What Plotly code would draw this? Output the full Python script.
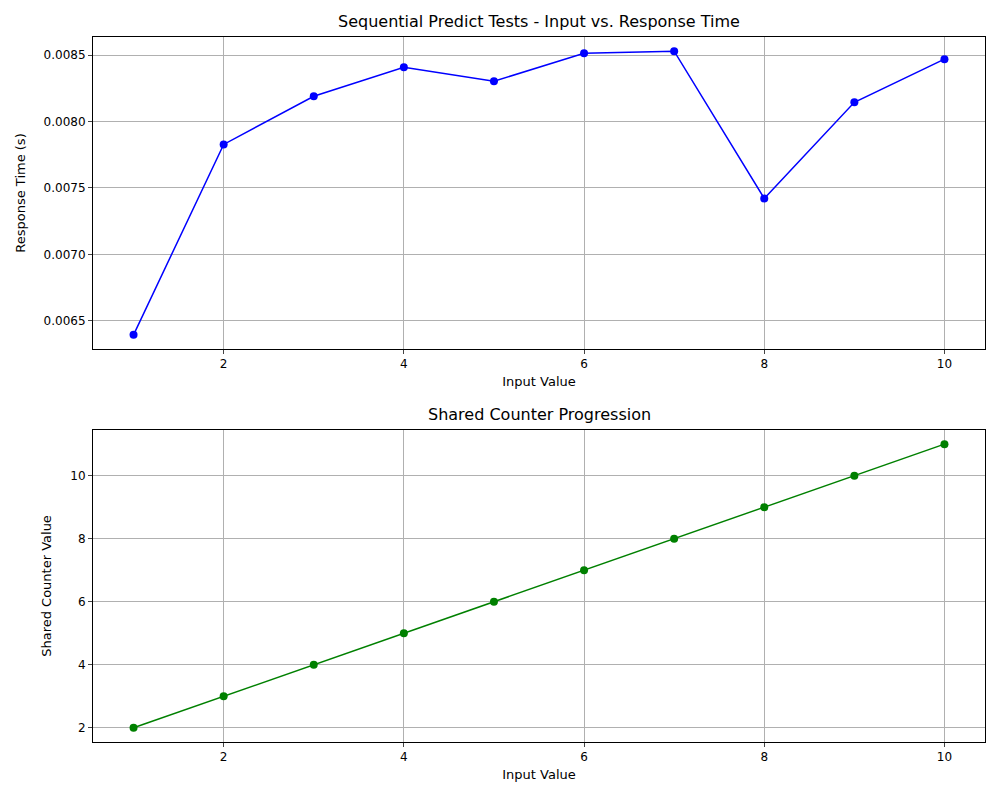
import plotly.graph_objects as go
from plotly.subplots import make_subplots

inputs = [1, 2, 3, 4, 5, 6, 7, 8, 9, 10]
response_times = [0.006394, 0.007828, 0.008191, 0.008409, 0.008304, 0.008515, 0.008530, 0.007421, 0.008145, 0.008470]
counter_values = [2, 3, 4, 5, 6, 7, 8, 9, 10, 11]

fig = make_subplots(rows=2, cols=1, vertical_spacing=0.115)
fig.add_trace(go.Scatter(x=inputs, y=response_times, mode="lines+markers",
                         line=dict(color="blue", width=1.5), marker=dict(color="blue", size=8)), 1, 1)
fig.add_trace(go.Scatter(x=inputs, y=counter_values, mode="lines+markers",
                         line=dict(color="green", width=1.5), marker=dict(color="green", size=8)), 2, 1)

ax = dict(showgrid=True, gridcolor="#b0b0b0", gridwidth=1, showline=True, linecolor="black",
          mirror=True, ticks="outside", ticklen=4, zeroline=False, tickfont=dict(size=12, color="black"))
fig.update_xaxes(**ax, range=[0.55, 10.45], tickvals=[2, 4, 6, 8, 10],
                 title=dict(text="Input Value", font=dict(size=13), standoff=6))
fig.update_yaxes(**ax)
fig.update_yaxes(range=[0.006287, 0.008637], tickvals=[0.0065, 0.0070, 0.0075, 0.0080, 0.0085],
                 tickformat=".4f", title=dict(text="Response Time (s)", font=dict(size=13)), row=1, col=1)
fig.update_yaxes(range=[1.55, 11.45], tickvals=[2, 4, 6, 8, 10],
                 title=dict(text="Shared Counter Value", font=dict(size=13)), row=2, col=1)
fig.update_layout(yaxis=dict(domain=[0.5574, 1]), yaxis2=dict(domain=[0, 0.4426]))

fig.update_layout(
    width=1000, height=800, showlegend=False, plot_bgcolor="white", paper_bgcolor="white",
    margin=dict(l=85, r=23, t=29, b=66),
    font=dict(family="DejaVu Sans", color="black"),
    annotations=[
        dict(text="Sequential Predict Tests - Input vs. Response Time", x=0.5, y=1, xref="paper",
             yref="paper", yanchor="bottom", yshift=4, showarrow=False, font=dict(size=16)),
        dict(text="Shared Counter Progression", x=0.5, y=0.4426, xref="paper",
             yref="paper", yanchor="bottom", yshift=4, showarrow=False, font=dict(size=16)),
    ],
)
fig.write_html("out.html")
